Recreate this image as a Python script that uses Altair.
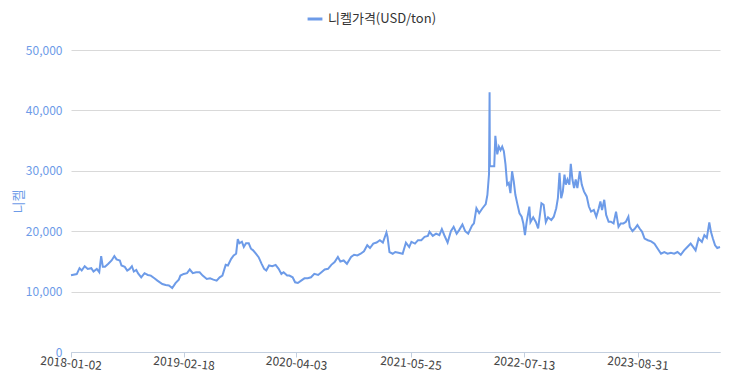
import altair as alt
import pandas as pd

dates = [
    "2018-01-02", "2018-01-23", "2018-02-02", "2018-02-10", "2018-02-21", "2018-03-04", "2018-03-17", "2018-03-25",
    "2018-04-06", "2018-04-15", "2018-04-22", "2018-04-28", "2018-05-06", "2018-05-18", "2018-05-30", "2018-06-09",
    "2018-06-17", "2018-06-29", "2018-07-05", "2018-07-17", "2018-07-26", "2018-08-04", "2018-08-12", "2018-08-19",
    "2018-08-28", "2018-09-03", "2018-09-15", "2018-09-27", "2018-10-09", "2018-10-20", "2018-11-02", "2018-11-13",
    "2018-12-01", "2018-12-13", "2018-12-25", "2019-01-06", "2019-01-18", "2019-01-30", "2019-02-05", "2019-02-17",
    "2019-03-01", "2019-03-11", "2019-03-22", "2019-04-03", "2019-04-16", "2019-04-27", "2019-05-12", "2019-05-24",
    "2019-06-05", "2019-06-17", "2019-06-28", "2019-07-08", "2019-07-20", "2019-07-28", "2019-08-09", "2019-08-18",
    "2019-08-27", "2019-09-02", "2019-09-08", "2019-09-17", "2019-09-24", "2019-10-02", "2019-10-12", "2019-10-20",
    "2019-10-28", "2019-11-07", "2019-11-17", "2019-11-28", "2019-12-07", "2019-12-15", "2019-12-25", "2020-01-06",
    "2020-01-18", "2020-01-29", "2020-02-08", "2020-02-16", "2020-02-29", "2020-03-08", "2020-03-20", "2020-03-29",
    "2020-04-08", "2020-04-20", "2020-05-02", "2020-05-14", "2020-05-26", "2020-06-07", "2020-06-21", "2020-07-03",
    "2020-07-15", "2020-07-27", "2020-08-08", "2020-08-20", "2020-09-01", "2020-09-10", "2020-09-22", "2020-10-04",
    "2020-10-19", "2020-10-30", "2020-11-11", "2020-11-23", "2020-12-05", "2020-12-17", "2020-12-27", "2021-01-08",
    "2021-01-20", "2021-02-01", "2021-02-12", "2021-02-25", "2021-03-01", "2021-03-08", "2021-03-20", "2021-03-29",
    "2021-04-10", "2021-04-25", "2021-05-07", "2021-05-19", "2021-05-27", "2021-06-09", "2021-06-20", "2021-07-02",
    "2021-07-14", "2021-07-26", "2021-08-01", "2021-08-13", "2021-08-25", "2021-09-06", "2021-09-15", "2021-09-24",
    "2021-10-06", "2021-10-18", "2021-10-28", "2021-11-08", "2021-11-17", "2021-11-29", "2021-12-09", "2021-12-20",
    "2022-01-03", "2022-01-10", "2022-01-19", "2022-01-29", "2022-02-10", "2022-02-22", "2022-02-28", "2022-03-06",
    "2022-03-08", "2022-03-09", "2022-03-25", "2022-03-29", "2022-04-05", "2022-04-11", "2022-04-17", "2022-04-23",
    "2022-04-29", "2022-05-05", "2022-05-11", "2022-05-17", "2022-05-23", "2022-05-29", "2022-06-04", "2022-06-10",
    "2022-06-18", "2022-06-25", "2022-07-03", "2022-07-09", "2022-07-15", "2022-07-21", "2022-07-31", "2022-08-04",
    "2022-08-14", "2022-08-24", "2022-09-01", "2022-09-13", "2022-09-21", "2022-09-29", "2022-10-07", "2022-10-19",
    "2022-10-28", "2022-11-06", "2022-11-12", "2022-11-18", "2022-11-24", "2022-11-30", "2022-12-06", "2022-12-11",
    "2022-12-17", "2022-12-24", "2022-12-29", "2023-01-04", "2023-01-10", "2023-01-16", "2023-01-22", "2023-01-31",
    "2023-02-07", "2023-02-15", "2023-02-25", "2023-03-05", "2023-03-13", "2023-03-23", "2023-04-01", "2023-04-10",
    "2023-04-16", "2023-04-22", "2023-04-30", "2023-05-07", "2023-05-16", "2023-05-24", "2023-06-03", "2023-06-12",
    "2023-06-21", "2023-06-29", "2023-07-09", "2023-07-18", "2023-07-27", "2023-08-01", "2023-08-11", "2023-08-19",
    "2023-08-29", "2023-09-06", "2023-09-15", "2023-09-24", "2023-10-06", "2023-10-18", "2023-10-30", "2023-11-11",
    "2023-11-23", "2023-12-05", "2023-12-17", "2023-12-29", "2024-01-10", "2024-01-22", "2024-02-03", "2024-02-15",
    "2024-02-27", "2024-03-10", "2024-03-19", "2024-03-28", "2024-04-08", "2024-04-20", "2024-04-29", "2024-05-08",
    "2024-05-17", "2024-05-23", "2024-05-30", "2024-06-07", "2024-06-15", "2024-06-25",
]

prices = [
    12700, 12900, 13880, 13490, 14210, 13760, 13880, 13330,
    13760, 13210, 15880, 14100, 14100, 14600, 15160, 15880,
    15330, 15160, 14330, 14100, 13490, 13760, 14210, 13330,
    13600, 13050, 12370, 13050, 12760, 12650, 12200, 11820,
    11260, 11100, 11000, 10580, 11400, 11990, 12650, 12930,
    13050, 13660, 13050, 13200, 13200, 12650, 12090, 12200,
    11990, 11820, 12370, 12650, 14430, 14330, 15430, 16000,
    16270, 18680, 18000, 18250, 17390, 18000, 18000, 17100,
    16830, 16270, 15700, 14600, 13760, 13490, 14330, 14210,
    14430, 13760, 12930, 13200, 12650, 12650, 12370, 11540,
    11430, 11820, 12200, 12200, 12370, 12930, 12760, 13210,
    13660, 13770, 14430, 14880, 15720, 14990, 15160, 14600,
    15720, 16100, 15990, 16270, 16670, 17670, 17210, 17940,
    18120, 18510, 18120, 19780, 19050, 16550, 16270, 16550,
    16440, 16270, 18110, 17380, 18220, 17940, 18510, 18510,
    19060, 19230, 19900, 19230, 19600, 19330, 20340, 19330,
    18110, 20000, 20730, 19600, 20180, 21120, 20000, 19600,
    20950, 21300, 23800, 23000, 23800, 24500, 26000, 29500,
    43000, 30760, 30760, 35780, 32720, 34000, 33420, 34000,
    33250, 31050, 27700, 28000, 26300, 29930, 28300, 26030,
    24360, 22960, 22400, 21290, 19340, 21500, 24080, 21500,
    22300, 21500, 20450, 24630, 24360, 21500, 22300, 21850,
    22400, 23800, 25460, 29650, 25460, 26570, 29380, 27720,
    28550, 27720, 31150, 28550, 27150, 28550, 27150, 29930,
    27720, 26590, 25760, 24080, 23240, 23520, 22400, 23800,
    24910, 23520, 25200, 22700, 21570, 21570, 21290, 23240,
    20730, 21290, 21290, 21570, 22400, 20730, 20000, 20400,
    21010, 20450, 19900, 18780, 18500, 18320, 17940, 17100,
    16270, 16550, 16270, 16440, 16270, 16550, 16100, 16830,
    17390, 17940, 17390, 16830, 18780, 18220, 19340, 18890,
    21450, 19900, 18780, 17670, 17220, 17390,
]

series_name = "니켈가격(USD/ton)"
tick_dates = ["2018-01-02", "2019-02-18", "2020-04-03", "2021-05-25", "2022-07-13", "2023-08-31"]
x_start = "2018-01-02"
x_end = "2024-06-25"


def to_dt(s):
    y, m, d = (int(p) for p in s.split("-"))
    return alt.DateTime(year=y, month=m, date=d, utc=True)


df = pd.DataFrame({"date": dates, "price": prices, "series": series_name})

FONT = "Noto Sans CJK KR"
BLUE = "#6d9be8"

chart = (
    alt.Chart(df)
    .mark_line(strokeWidth=2, interpolate="linear")
    .encode(
        x=alt.X(
            "date:T",
            scale=alt.Scale(type="utc", domain=[to_dt(x_start), to_dt(x_end)], nice=False),
            axis=alt.Axis(
                values=[to_dt(t) for t in tick_dates],
                labelExpr="utcFormat(datum.value, '%Y-%m-%d')",
                title=None,
                grid=False,
                labelAngle=5,
                labelAlign="center",
                labelBaseline="top",
                labelColor="#444444",
                labelFontSize=12,
                labelPadding=1,
                domainColor="#c3cfdf",
                tickColor="#c3cfdf",
                tickSize=5,
                labelFont=FONT,
            ),
        ),
        y=alt.Y(
            "price:Q",
            scale=alt.Scale(domain=[0, 50000]),
            axis=alt.Axis(
                values=[0, 10000, 20000, 30000, 40000, 50000],
                format=",d",
                title="니켈",
                titleColor=BLUE,
                titleFontSize=13,
                titleFontWeight="normal",
                titleFont=FONT,
                titlePadding=0,
                labelColor=BLUE,
                labelFontSize=12,
                labelFont=FONT,
                labelPadding=9,
                domain=False,
                ticks=False,
                gridColor="#d9d9d9",
            ),
        ),
        color=alt.Color(
            "series:N",
            scale=alt.Scale(range=[BLUE]),
            legend=alt.Legend(
                title=None,
                orient="none",
                legendX=235,
                legendY=-40,
                padding=0,
                symbolType="stroke",
                symbolStrokeWidth=3,
                symbolSize=220,
                labelFontSize=13,
                labelFont=FONT,
                labelColor="#333333",
            ),
        ),
    )
    .properties(
        width=716,
        height=364,
        autosize=alt.AutoSizeParams(type="fit", contains="padding"),
        padding={"left": 4, "top": 36, "right": 0, "bottom": 0},
    )
    .configure_view(stroke=None)
)

chart.save("out.html", embed_options={"renderer": "svg", "actions": False})
